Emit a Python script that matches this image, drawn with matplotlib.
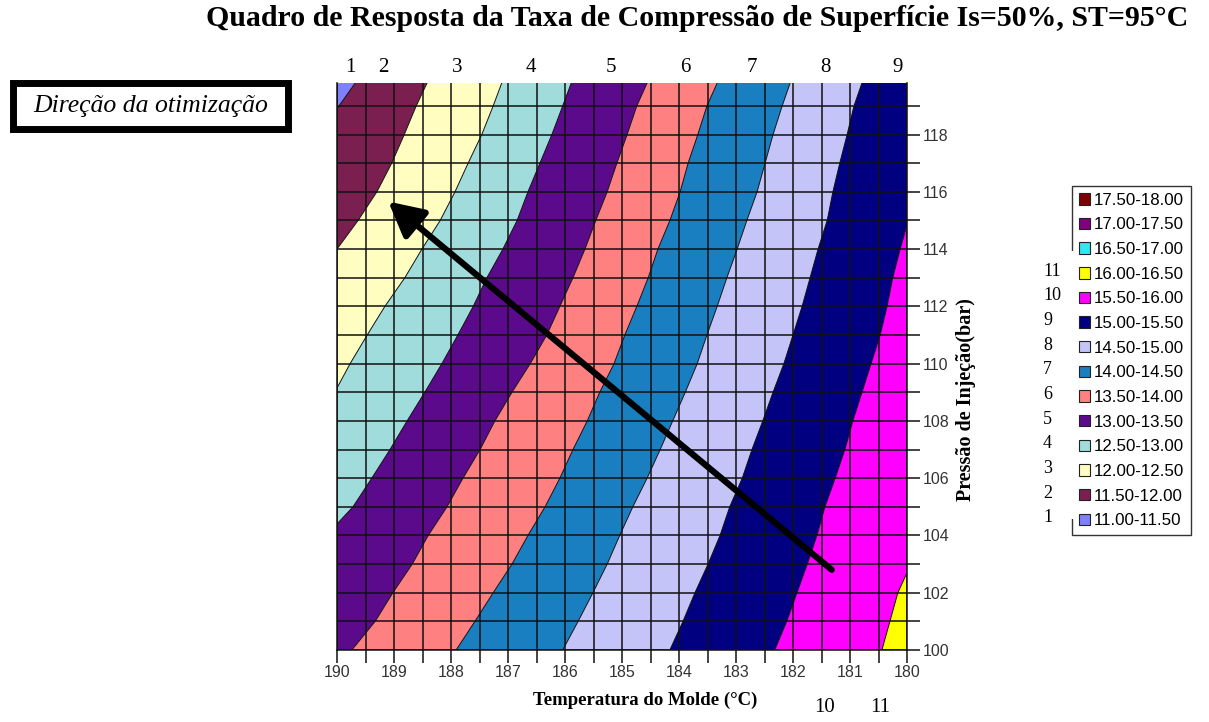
"""
Response chart of surface compression rate: filled bands between contour
boundaries read off the reference, grid, arrow and legend.
"""

import numpy as np
import matplotlib
matplotlib.use('Agg')
import matplotlib.pyplot as plt
from matplotlib.patches import Polygon, Patch, Rectangle

# ---- data -----------------------------------------------------------------
# each boundary: pressure (bar) -> mould temperature (C) where band changes
b115_p = [119.8, 118.9]
b115_t = [189.68, 190.0]
b120_p = [119.8, 119, 118, 117, 116, 115, 114]
b120_t = [188.42, 188.61, 188.82, 189.04, 189.30, 189.63, 190.0]
b125_p = [119.8, 119, 118, 117, 116, 115, 114, 113, 112, 111, 110, 109.15]
b125_t = [187.11, 187.26, 187.46, 187.70, 187.93, 188.19, 188.51, 188.81,
          189.16, 189.47, 189.77, 190.0]
b130_p = [119.8, 119, 118, 117, 116, 115, 114, 113, 112, 111, 110, 109,
          108, 107, 106, 105, 104.4]
b130_t = [185.89, 186.04, 186.23, 186.44, 186.65, 186.84, 187.09, 187.37,
          187.61, 187.88, 188.16, 188.46, 188.77, 189.07, 189.39, 189.72, 190.0]
p_full = [119.8, 119, 118, 117, 116, 115, 114, 113, 112, 111, 110, 109,
          108, 107, 106, 105, 104, 103, 102, 101, 100]
b135_t = [184.56, 184.74, 184.91, 185.09, 185.26, 185.46, 185.65, 185.86,
          186.09, 186.32, 186.61, 186.93, 187.23, 187.49, 187.79, 188.07,
          188.40, 188.68, 189.02, 189.33, 189.74]
b140_t = [183.33, 183.51, 183.67, 183.84, 183.98, 184.16, 184.37, 184.54,
          184.74, 184.95, 185.14, 185.39, 185.61, 185.86, 186.09, 186.35,
          186.65, 186.93, 187.26, 187.58, 187.91]
b145_t = [182.05, 182.19, 182.35, 182.49, 182.63, 182.81, 182.98, 183.16,
          183.33, 183.51, 183.68, 183.89, 184.11, 184.33, 184.56, 184.81,
          185.04, 185.26, 185.51, 185.77, 186.04]
b150_t = [180.79, 180.93, 181.05, 181.18, 181.30, 181.40, 181.56, 181.70,
          181.84, 182.00, 182.16, 182.35, 182.53, 182.72, 182.89, 183.11,
          183.28, 183.49, 183.72, 183.93, 184.16]
b155_p = [114.85, 114, 113, 112, 111, 110, 109, 108, 107, 106, 105, 104,
          103, 102, 101, 100]
b155_t = [180.0, 180.12, 180.25, 180.35, 180.47, 180.63, 180.79, 180.95,
          181.09, 181.26, 181.44, 181.58, 181.75, 181.93, 182.11, 182.32]
b160_p = [102.7, 102, 101, 100]
b160_t = [180.0, 180.16, 180.30, 180.44]

boundaries = [(b115_p, b115_t), (b120_p, b120_t), (b125_p, b125_t),
              (b130_p, b130_t), (p_full, b135_t), (p_full, b140_t),
              (p_full, b145_t), (p_full, b150_t), (b155_p, b155_t),
              (b160_p, b160_t)]

legend_labels = ['17.50-18.00', '17.00-17.50', '16.50-17.00', '16.00-16.50',
                 '15.50-16.00', '15.00-15.50', '14.50-15.00', '14.00-14.50',
                 '13.50-14.00', '13.00-13.50', '12.50-13.00', '12.00-12.50',
                 '11.50-12.00', '11.00-11.50']
legend_colors = ['#800000', '#800080', '#33e6f0', '#ffff00', '#ff00ff',
                 '#000080', '#c4c4f8', '#1a7fc0', '#ff8080', '#5c0a8c',
                 '#a0dcdc', '#fffec0', '#7a1f50', '#8080ff']
band_numbers = ['1', '2', '3', '4', '5', '6', '7', '8', '9', '10', '11']

# plot range
T_HI, T_LO = 190.0, 180.0
P_LO, P_HI = 100.0, 119.8

SERIF = 'Liberation Serif'
SANS = 'Liberation Sans'

W, H = 1209, 722
fig = plt.figure(figsize=(W / 100, H / 100), dpi=100)
ax = fig.add_axes([337 / W, 1 - 650 / H, 570 / W, 567 / H])


def edge_path(p, t):
    """Boundary from the top edge to the bottom edge, running along the plot
    side where the curve leaves through it."""
    pts = list(zip(t, p))
    if p[0] < P_HI:
        pts.insert(0, (t[0], P_HI))
    if p[-1] > P_LO:
        pts.append((t[-1], P_LO))
    return pts


paths = [[(T_HI, P_HI), (T_HI, P_LO)]]
paths += [edge_path(p, t) for p, t in boundaries]
paths += [[(T_LO, P_HI), (T_LO, P_LO)]]

# bands from low (left) to high (right): 11.00-11.50 ... 16.00-16.50
band_colors = legend_colors[::-1][:len(paths) - 1]
for k, col in enumerate(band_colors):
    poly = paths[k] + paths[k + 1][::-1]
    ax.add_patch(Polygon(poly, closed=True, facecolor=col, edgecolor='none',
                         zorder=1))

for p, t in boundaries:
    ax.plot(t, p, color='#101010', lw=0.7, zorder=2)

ax.set_xlim(T_HI, T_LO)
ax.set_ylim(P_LO, P_HI)

xt = np.arange(180, 190.01, 0.5)
ax.set_xticks(xt)
ax.set_xticklabels([f'{v:.0f}' if v % 1 == 0 else '' for v in xt])
yt = np.arange(100, 119.01, 1)
ax.set_yticks(yt)
ax.set_yticklabels([f'{v:.0f}' if v % 2 == 0 else '' for v in yt])
ax.yaxis.tick_right()
ax.tick_params(axis='both', length=9, width=1.1, color='#111',
               labelsize=11.5, labelcolor='#333', pad=2)
for lab in ax.get_xticklabels() + ax.get_yticklabels():
    lab.set_fontfamily(SANS)
ax.grid(True, color='#111', lw=1.1, zorder=3)
ax.set_axisbelow(False)
for side in ['left', 'right', 'bottom']:
    ax.spines[side].set_color('#111')
    ax.spines[side].set_linewidth(1.1)
ax.spines['top'].set_visible(False)

# optimisation direction arrow
ax.annotate('', xy=(189.1, 115.66), xytext=(181.32, 102.8),
            arrowprops=dict(arrowstyle='-|>,head_length=0.42,head_width=0.22',
                            lw=4.5, color='black', mutation_scale=50,
                            shrinkA=0, shrinkB=0), zorder=5)

# texts
fig.text(697 / W, 1 - 19 / H,
         'Quadro de Resposta da Taxa de Compressão de Superfície Is=50%, ST=95°C',
         ha='center', va='center', fontsize=21.5, fontweight='bold',
         family=SERIF)
fig.text(645 / W, 1 - 700 / H, 'Temperatura do Molde (°C)', ha='center',
         va='center', fontsize=13.5, fontweight='bold', family=SERIF)
fig.text(966 / W, 1 - 400 / H, 'Pressão de Injeção(bar)', ha='center',
         va='center', rotation=90, fontsize=14.5, fontweight='bold',
         family=SERIF)

fig.text(151 / W, 1 - 106 / H, 'Direção da otimização', ha='center',
         va='center', fontsize=18.5, style='italic', family=SERIF)
fig.add_artist(Rectangle((13 / W, 1 - 129 / H), 275 / W, 46 / H,
                         transform=fig.transFigure, fill=False,
                         edgecolor='black', lw=5))

top_x = [350, 383, 457, 531, 611, 685, 752, 825, 898]
for num, x in zip(band_numbers[:9], top_x):
    fig.text(x / W, 1 - 68 / H, num, ha='center', va='center', fontsize=15,
             family=SERIF)
for num, x in zip(band_numbers[9:], [825, 880]):
    fig.text(x / W, 1 - 707 / H, num, ha='center', va='center', fontsize=15,
             family=SERIF)

# legend
handles = [Patch(facecolor=c, edgecolor='#222', lw=0.8) for c in legend_colors]
leg = fig.legend(handles, legend_labels, loc='upper left',
                 bbox_to_anchor=(1072 / W, 1 - 186 / H), frameon=True,
                 fancybox=False, edgecolor='#333', framealpha=1,
                 prop={'family': SANS, 'size': 12.2}, handlelength=0.66,
                 handleheight=0.66, handletextpad=0.25, labelspacing=0.57,
                 borderpad=0.4, borderaxespad=0)
leg.get_frame().set_linewidth(1.0)

fig.canvas.draw()
# white patch hides the left border where the band numbers sit
fig.add_artist(Rectangle((1030 / W, 1 - 519 / H), 47 / W, 268 / H,
                         transform=fig.transFigure, facecolor='white',
                         edgecolor='none', zorder=10))
inv = fig.transFigure.inverted()
for num, txt in zip(band_numbers[::-1], leg.get_texts()[3:]):
    bb = txt.get_window_extent()
    y = inv.transform((0, (bb.y0 + bb.y1) / 2))[1]
    fig.text(1043 / W, y + 3 / H, num, ha='left', va='center', fontsize=13,
             family=SERIF, zorder=11)

fig.savefig('out.png', dpi=100)
